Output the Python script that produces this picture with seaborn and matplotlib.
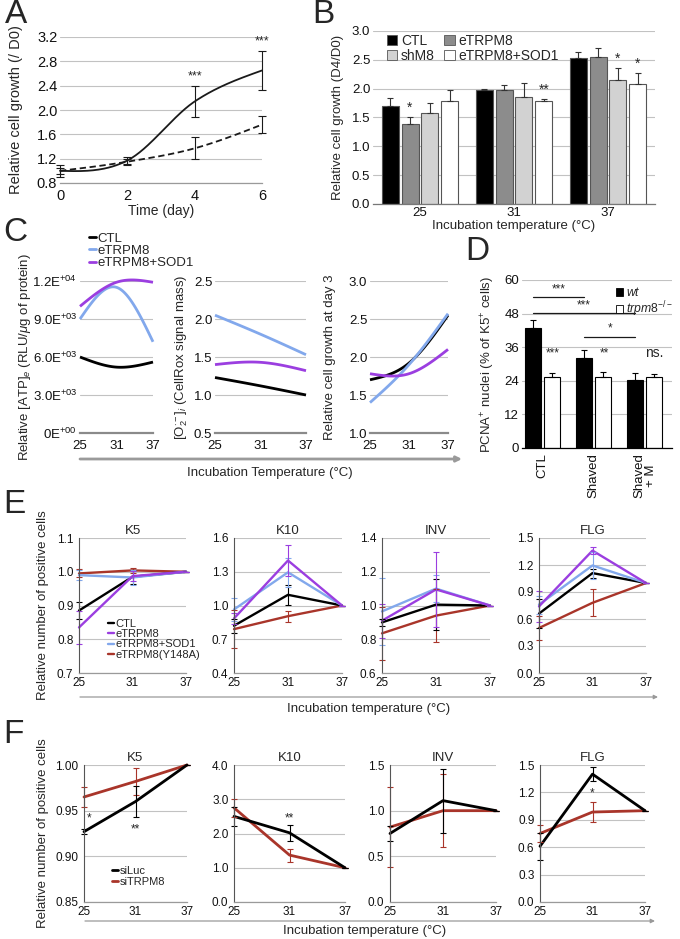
import numpy as np
import pandas as pd
import matplotlib
matplotlib.use("Agg")
import matplotlib.pyplot as plt
import seaborn as sns
from matplotlib.lines import Line2D
from matplotlib.patches import Patch, FancyArrowPatch

# ------------------------------------------------------------------ data
# Panel A
a_days = [0, 2, 4, 6]
a_solid = [1.00, 1.17, 2.14, 2.65]
a_solid_err = [0.05, 0.05, 0.26, 0.32]
a_dash = [1.00, 1.15, 1.37, 1.76]
a_dash_err = [0.10, 0.05, 0.18, 0.14]

# Panel B
b_temps = ["25", "31", "37"]
b_groups = ["CTL", "eTRPM8", "shM8", "eTRPM8+SOD1"]
b_ctl = [1.70, 1.98, 2.53]
b_ctl_err = [0.14, 0.02, 0.10]
b_etrpm8 = [1.38, 1.97, 2.55]
b_etrpm8_err = [0.13, 0.10, 0.15]
b_shm8 = [1.57, 1.86, 2.15]
b_shm8_err = [0.18, 0.23, 0.20]
b_sod1 = [1.79, 1.79, 2.08]
b_sod1_err = [0.19, 0.03, 0.19]

# Panel C
c_temps = [25, 31, 37]
c_atp_ctl = [6000, 5200, 5600]
c_atp_etrpm8 = [9000, 11500, 7200]
c_atp_sod1 = [10000, 11900, 11900]
c_ros_ctl = [1.23, 1.12, 1.00]
c_ros_etrpm8 = [2.05, 1.80, 1.53]
c_ros_sod1 = [1.40, 1.43, 1.32]
c_grow_ctl = [1.70, 1.92, 2.55]
c_grow_etrpm8 = [1.40, 1.90, 2.57]
c_grow_sod1 = [1.78, 1.78, 2.10]

# Panel D
d_groups = ["CTL", "Shaved", "Shaved\n+ M"]
d_wt = [42.8, 32.0, 24.3]
d_wt_err = [2.9, 3.0, 2.6]
d_ko = [25.5, 25.5, 25.5]
d_ko_err = [1.4, 1.6, 0.9]

# Panel E
e_temps = [25, 31, 37]
e_series = ["CTL", "eTRPM8", "eTRPM8+SOD1", "eTRPM8(Y148A)"]
e_k5_ctl = [0.885, 0.985, 1.0];  e_k5_ctl_err = [0.026, 0.020, 0]
e_k5_et = [0.835, 0.987, 1.0];   e_k5_et_err = [0.050, 0.015, 0]
e_k5_sod = [0.990, 0.983, 1.0];  e_k5_sod_err = [0.015, 0.022, 0]
e_k5_y = [0.995, 1.004, 1.0];    e_k5_y_err = [0.012, 0.007, 0]
e_k10_ctl = [0.82, 1.095, 1.0];  e_k10_ctl_err = [0.06, 0.09, 0]
e_k10_et = [0.885, 1.40, 1.0];   e_k10_et_err = [0.05, 0.14, 0]
e_k10_sod = [0.965, 1.295, 1.0]; e_k10_sod_err = [0.10, 0.13, 0]
e_k10_y = [0.79, 0.905, 1.0];    e_k10_y_err = [0.17, 0.05, 0]
e_inv_ctl = [0.90, 1.005, 1.0];  e_inv_ctl_err = [0.02, 0.15, 0]
e_inv_et = [0.91, 1.095, 1.0];   e_inv_et_err = [0.10, 0.22, 0]
e_inv_sod = [0.965, 1.10, 1.0];  e_inv_sod_err = [0.20, 0.08, 0]
e_inv_y = [0.835, 0.94, 1.0];    e_inv_y_err = [0.155, 0.155, 0]
e_flg_ctl = [0.66, 1.11, 1.0];   e_flg_ctl_err = [0.16, 0.05, 0]
e_flg_et = [0.74, 1.36, 1.0];    e_flg_et_err = [0.17, 0.04, 0]
e_flg_sod = [0.76, 1.195, 1.0];  e_flg_sod_err = [0.10, 0.15, 0]
e_flg_y = [0.50, 0.78, 1.0];     e_flg_y_err = [0.13, 0.15, 0]

# Panel F
f_series = ["siLuc", "siTRPM8"]
f_k5_luc = [0.927, 0.960, 1.0];  f_k5_luc_err = [0.003, 0.017, 0]
f_k5_si = [0.965, 0.982, 1.0];   f_k5_si_err = [0.011, 0.015, 0]
f_k10_luc = [2.50, 2.02, 1.0];   f_k10_luc_err = [0.28, 0.23, 0]
f_k10_si = [2.75, 1.37, 1.0];    f_k10_si_err = [0.27, 0.19, 0]
f_inv_luc = [0.75, 1.11, 1.0];   f_inv_luc_err = [0.08, 0.35, 0]
f_inv_si = [0.82, 1.00, 1.0];    f_inv_si_err = [0.44, 0.40, 0]
f_flg_luc = [0.61, 1.40, 1.0];   f_flg_luc_err = [0.145, 0.08, 0]
f_flg_si = [0.75, 0.985, 1.0];   f_flg_si_err = [0.09, 0.11, 0]

# ------------------------------------------------------------------ style
sns.set_theme(style="white")
plt.rcParams['font.family'] = ['Liberation Sans', 'DejaVu Sans']
plt.rcParams['mathtext.fontset'] = 'custom'
plt.rcParams['mathtext.rm'] = 'Liberation Sans'
plt.rcParams['mathtext.it'] = 'Liberation Sans:italic'
plt.rcParams['mathtext.bf'] = 'Liberation Sans:bold'
plt.rcParams['axes.unicode_minus'] = False

BLACK = '#000000'
PURPLE = '#9b3ee0'
BLUE = '#82a8ec'
RED = '#a9352a'
GRID = '#c2c2c2'

W, H = 680, 939
fig = plt.figure(figsize=(W / 100, H / 100), dpi=100)
fig.patch.set_facecolor('white')


def px_axes(l, t, r, b):
    return fig.add_axes([l / W, 1 - b / H, (r - l) / W, (b - t) / H])


def fy(y):
    return 1 - y / H


def style(ax, left=False, bottom_color='#9a9a9a', tick_fs=9):
    for s in ['top', 'right']:
        ax.spines[s].set_visible(False)
    ax.spines['left'].set_visible(left)
    ax.spines['left'].set_color('#555555')
    ax.spines['left'].set_linewidth(0.8)
    ax.spines['bottom'].set_color(bottom_color)
    ax.spines['bottom'].set_linewidth(0.9)
    ax.yaxis.grid(True, color=GRID, lw=0.8)
    ax.xaxis.grid(False)
    ax.set_axisbelow(True)
    ax.tick_params(axis='both', length=0, pad=2, labelsize=tick_fs, colors='#111111')
    ax.set_facecolor('none')


def smooth(x, y, n=50):
    # Excel-like smoothed line through the data points (render helper)
    x = np.asarray(x, float)
    y = np.asarray(y, float)
    k = len(x)
    m = np.zeros(k)
    for i in range(1, k - 1):
        m[i] = (y[i + 1] - y[i - 1]) / (x[i + 1] - x[i - 1])
    m[0] = (3 * (y[1] - y[0]) / (x[1] - x[0]) - m[1]) / 2
    m[-1] = (3 * (y[-1] - y[-2]) / (x[-1] - x[-2]) - m[-2]) / 2
    xs, ys = [], []
    t = np.linspace(0, 1, n)
    h00 = 2 * t**3 - 3 * t**2 + 1
    h10 = t**3 - 2 * t**2 + t
    h01 = -2 * t**3 + 3 * t**2
    h11 = t**3 - t**2
    for i in range(k - 1):
        h = x[i + 1] - x[i]
        xs.append(x[i] + t * h)
        ys.append(h00 * y[i] + h10 * h * m[i] + h01 * y[i + 1] + h11 * h * m[i + 1])
    return np.concatenate(xs), np.concatenate(ys)


def letter(x, y, s):
    fig.text(x / W, fy(y - 6), s, fontsize=24, va='top', ha='left')


def arrow(x0, x1, y, lw=1.0, color='#9a9a9a', ms=7):
    fig.add_artist(FancyArrowPatch((x0 / W, fy(y)), (x1 / W, fy(y)),
                                   transform=fig.transFigure, arrowstyle='-|>',
                                   mutation_scale=ms, color=color, lw=lw,
                                   shrinkA=0, shrinkB=0))


# ------------------------------------------------------------------ Panel A
axA = px_axes(60, 37, 262, 183)
style(axA, tick_fs=10.5)
xs, ys = smooth(a_days, a_solid)
axA.plot(xs, ys, color='k', lw=1.3, clip_on=False)
xs, ys = smooth(a_days, a_dash)
axA.plot(xs, ys, color='k', lw=1.3, ls=(0, (3.5, 2)), clip_on=False)
axA.errorbar(a_days, a_solid, yerr=a_solid_err, fmt='none', ecolor='k',
             elinewidth=0.8, capsize=3, capthick=0.8, clip_on=False)
axA.errorbar(a_days, a_dash, yerr=a_dash_err, fmt='none', ecolor='k',
             elinewidth=0.8, capsize=3, capthick=0.8, clip_on=False)
axA.set_xlim(0, 6)
axA.set_ylim(0.8, 3.2)
axA.set_yticks(np.arange(0.8, 3.21, 0.4))
axA.set_yticklabels([f"{v:.1f}" for v in np.arange(0.8, 3.21, 0.4)])
axA.set_xticks(a_days)
axA.tick_params(axis='x', pad=4)
axA.set_xlabel("Time (day)", fontsize=10, labelpad=1)
axA.set_ylabel("Relative cell growth (/ D0)", fontsize=10.5)
axA.yaxis.set_label_coords((23 - 60) / 202, 0.5)
for xi, yi, e in zip(a_days[2:], a_solid[2:], a_solid_err[2:]):
    axA.text(xi, yi + e + 0.06, "***", ha='center', va='bottom', fontsize=9)
letter(5, 5, "A")

# ------------------------------------------------------------------ Panel B
axB = px_axes(373, 31, 655, 204)
style(axB, bottom_color='#777777', tick_fs=9.5)
b_vals = {"CTL": b_ctl, "eTRPM8": b_etrpm8, "shM8": b_shm8, "eTRPM8+SOD1": b_sod1}
b_errs = {"CTL": b_ctl_err, "eTRPM8": b_etrpm8_err, "shM8": b_shm8_err, "eTRPM8+SOD1": b_sod1_err}
b_colors = {"CTL": '#000000', "eTRPM8": '#8c8c8c', "shM8": '#d2d2d2', "eTRPM8+SOD1": '#ffffff'}
rows = [(t, g, v) for g in b_groups for t, v in zip(b_temps, b_vals[g])]
dfb = pd.DataFrame(rows, columns=['temp', 'group', 'value'])
sns.barplot(data=dfb, x='temp', y='value', hue='group', order=b_temps,
            hue_order=b_groups, palette=b_colors, width=0.85, gap=0.15,
            edgecolor='#555555', linewidth=0.8, errorbar=None, legend=False, ax=axB)
b_centers = {}
for cont, g in zip(axB.containers, b_groups):
    cx = [p.get_x() + p.get_width() / 2 for p in cont]
    b_centers[g] = cx
    axB.errorbar(cx, b_vals[g], yerr=[np.zeros(3), b_errs[g]], fmt='none',
                 ecolor='#333333', elinewidth=0.8, capsize=2.5, capthick=0.8)
axB.set_xlim(-0.5, 2.5)
axB.set_ylim(0, 3.0)
axB.set_yticks(np.arange(0, 3.01, 0.5))
axB.set_yticklabels([f"{v:.1f}" for v in np.arange(0, 3.01, 0.5)])
axB.set_xlabel("Incubation temperature (\u00b0C)", fontsize=9.5, labelpad=1)
axB.set_ylabel("Relative cell growth (D4/D0)", fontsize=9.5)
axB.yaxis.set_label_coords((344 - 373) / 282, 0.5)
axB.tick_params(axis='x', pad=2)
b_stars = [("eTRPM8", 0, "*"), ("eTRPM8+SOD1", 1, "**"), ("shM8", 2, "*"), ("eTRPM8+SOD1", 2, "*")]
for g, i, s in b_stars:
    axB.text(b_centers[g][i], b_vals[g][i] + b_errs[g][i] + 0.04, s,
             ha='center', va='bottom', fontsize=10)
b_handles = [Patch(facecolor=b_colors[g], edgecolor='#555555', lw=0.6) for g in
             ["CTL", "shM8", "eTRPM8", "eTRPM8+SOD1"]]
axB.legend(b_handles, ["CTL", "shM8", "eTRPM8", "eTRPM8+SOD1"], ncol=2,
           loc='upper left', bbox_to_anchor=(0.02, 1.03), frameon=False,
           fontsize=10, handlelength=0.75, handleheight=0.75, handletextpad=0.25,
           columnspacing=0.7, labelspacing=0.05, borderpad=0.1)
letter(312, 5, "B")

# ------------------------------------------------------------------ Panel C
c_colors = [BLACK, BLUE, PURPLE]
c_specs = [
    (80, 153, [c_atp_ctl, c_atp_etrpm8, c_atp_sod1], (0, 12000),
     [0, 3000, 6000, 9000, 12000],
     [r"0E$^{+00}$", r"3.0E$^{+03}$", r"6.0E$^{+03}$", r"9.0E$^{+03}$", r"1.2E$^{+04}$"],
     r"Relative [ATP]$_e$ (RLU/$\mu$g of protein)", 33),
    (215, 306, [c_ros_ctl, c_ros_etrpm8, c_ros_sod1], (0.5, 2.5),
     [0.5, 1.0, 1.5, 2.0, 2.5], ["0.5", "1.0", "1.5", "2.0", "2.5"],
     r"[O$_2^{\cdot-}$]$_i$ (CellRox signal mass)", 190),
    (370, 448, [c_grow_ctl, c_grow_etrpm8, c_grow_sod1], (1.0, 3.0),
     [1.0, 1.5, 2.0, 2.5, 3.0], ["1.0", "1.5", "2.0", "2.5", "3.0"],
     "Relative cell growth at day 3", 336),
]
for l, r, series, ylim, yt, ytl, ylab, labx in c_specs:
    ax = px_axes(l, 281, r, 433)
    style(ax, bottom_color='#8a8a8a', tick_fs=9.5)
    ax.spines['bottom'].set_linewidth(1.6)
    for vals, col in zip(series, c_colors):
        xs, ys = smooth(c_temps, vals)
        ax.plot(xs, ys, color=col, lw=2.0, clip_on=False, solid_capstyle='butt')
    ax.set_xlim(25, 37)
    ax.set_ylim(*ylim)
    ax.set_yticks(yt)
    ax.set_yticklabels(ytl)
    ax.set_xticks(c_temps)
    ax.tick_params(axis='x', pad=5)
    ax.set_ylabel(ylab, fontsize=9.5)
    ax.yaxis.set_label_coords((labx - l) / (r - l), 0.5)
arrow(80, 462, 459, lw=2.0, color='#9a9a9a', ms=8)
fig.text(270 / W, fy(473), "Incubation Temperature (\u00b0C)", ha='center', va='center', fontsize=9.5)
c_handles = [Line2D([0], [0], color=c, lw=2) for c in c_colors]
fig.legend(c_handles, ["CTL", "eTRPM8", "eTRPM8+SOD1"], loc='upper left',
           bbox_to_anchor=(82 / W, fy(226)), frameon=False, fontsize=9.5,
           handlelength=0.55, handletextpad=0.15, labelspacing=0.0, borderpad=0)
letter(3, 223, "C")

# ------------------------------------------------------------------ Panel D
axD = px_axes(522, 280, 672, 448)
style(axD, bottom_color='#000000', tick_fs=9.5)
rows = [(g, "wt", v) for g, v in zip(d_groups, d_wt)] + \
       [(g, "trpm8", v) for g, v in zip(d_groups, d_ko)]
dfd = pd.DataFrame(rows, columns=['cond', 'geno', 'value'])
sns.barplot(data=dfd, x='cond', y='value', hue='geno', order=d_groups,
            hue_order=["wt", "trpm8"], palette={"wt": '#000000', "trpm8": '#ffffff'},
            width=0.74, gap=0.16, edgecolor='#000000', linewidth=0.8,
            errorbar=None, legend=False, ax=axD)
d_centers = {}
for cont, g, vals, errs in zip(axD.containers, ["wt", "trpm8"], [d_wt, d_ko], [d_wt_err, d_ko_err]):
    cx = [p.get_x() + p.get_width() / 2 for p in cont]
    d_centers[g] = cx
    axD.errorbar(cx, vals, yerr=[np.zeros(3), errs], fmt='none', ecolor='#000000',
                 elinewidth=0.8, capsize=2.5, capthick=0.8)
axD.set_xlim(-0.39, 2.53)
axD.set_ylim(0, 60)
axD.set_yticks([0, 12, 24, 36, 48, 60])
axD.set_xticks(range(3))
axD.set_xticklabels(d_groups, rotation=90, va='top', ha='center', fontsize=9.5, linespacing=0.95)
axD.tick_params(axis='x', pad=4)
axD.set_xlabel("")
axD.set_ylabel(r"PCNA$^{+}$ nuclei (% of K5$^{+}$ cells)", fontsize=9.5)
axD.yaxis.set_label_coords((497 - 522) / 150, 0.5)
wc = d_centers["wt"]
for (i0, i1, yv, s) in [(0, 1, 54.0, "***"), (0, 2, 48.1, "***"), (1, 2, 39.8, "*")]:
    axD.plot([wc[i0], wc[i1]], [yv, yv], color='k', lw=0.9)
    axD.text((wc[i0] + wc[i1]) / 2, yv + 0.6, s, ha='center', va='bottom', fontsize=8.5)
kc = d_centers["trpm8"]
for i, s, fs in [(0, "***", 8.5), (1, "**", 8.5), (2, "ns.", 10)]:
    axD.text(kc[i] + (0.02 if s != "ns." else 0.0), 31.5, s, ha='center', va='bottom', fontsize=fs)
d_handles = [Patch(facecolor='#000000', edgecolor='#000000', lw=0.6),
             Patch(facecolor='#ffffff', edgecolor='#000000', lw=0.6)]
fig.legend(d_handles, [r"$\mathit{wt}$", r"$\mathit{trpm8}^{-/-}$"], loc='upper left',
           bbox_to_anchor=(610 / W, fy(280)), frameon=False, fontsize=8.8,
           handlelength=0.6, handleheight=0.6, handletextpad=0.2, labelspacing=0.0,
           borderpad=0)
letter(465, 242, "D")

# ------------------------------------------------------------------ Panel E
e_colors = {"CTL": BLACK, "eTRPM8": PURPLE, "eTRPM8+SOD1": BLUE, "eTRPM8(Y148A)": RED}
e_panels = [
    ("K5", 79, 186, (0.7, 1.1), [0.7, 0.8, 0.9, 1.0, 1.1], "{:.1f}",
     [e_k5_ctl, e_k5_et, e_k5_sod, e_k5_y], [e_k5_ctl_err, e_k5_et_err, e_k5_sod_err, e_k5_y_err]),
    ("K10", 234, 342, (0.4, 1.6), [0.4, 0.7, 1.0, 1.3, 1.6], "{:.1f}",
     [e_k10_ctl, e_k10_et, e_k10_sod, e_k10_y], [e_k10_ctl_err, e_k10_et_err, e_k10_sod_err, e_k10_y_err]),
    ("INV", 382, 490, (0.6, 1.4), [0.6, 0.8, 1.0, 1.2, 1.4], "{:.1f}",
     [e_inv_ctl, e_inv_et, e_inv_sod, e_inv_y], [e_inv_ctl_err, e_inv_et_err, e_inv_sod_err, e_inv_y_err]),
    ("FLG", 539, 646, (0.0, 1.5), [0.0, 0.3, 0.6, 0.9, 1.2, 1.5], "{:.1f}",
     [e_flg_ctl, e_flg_et, e_flg_sod, e_flg_y], [e_flg_ctl_err, e_flg_et_err, e_flg_sod_err, e_flg_y_err]),
]
draw_order = [3, 0, 2, 1]
for name, l, r, ylim, yt, fmt, vals, errs in e_panels:
    ax = px_axes(l, 538, r, 673)
    style(ax, left=True, bottom_color='#9a9a9a', tick_fs=8.5)
    ax.tick_params(axis='y', length=2, width=0.6, color='#555555')
    rows = [(t, e_series[k], v) for k in draw_order for t, v in zip(e_temps, vals[k])]
    dfe = pd.DataFrame(rows, columns=['temp', 'series', 'value'])
    sns.lineplot(data=dfe, x='temp', y='value', hue='series',
                 hue_order=[e_series[k] for k in draw_order],
                 palette=e_colors, estimator=None, lw=1.7, legend=False, ax=ax)
    for k in draw_order:
        ax.errorbar(e_temps, vals[k], yerr=errs[k], fmt='none', ecolor=e_colors[e_series[k]],
                    elinewidth=0.8, capsize=2.2, capthick=0.8, clip_on=False)
    for ln in ax.lines:
        ln.set_clip_on(False)
    ax.set_xlim(25, 37)
    ax.set_ylim(*ylim)
    ax.set_yticks(yt)
    ax.set_yticklabels([fmt.format(v) for v in yt])
    ax.set_xticks(e_temps)
    ax.tick_params(axis='x', pad=3)
    ax.set_xlabel("")
    ax.set_ylabel("")
    ax.set_title(name, fontsize=9.5, pad=3)
    if name == "K5":
        ax.set_ylabel("Relative number of positive cells", fontsize=9.5)
        ax.yaxis.set_label_coords((49 - l) / (r - l), 0.5)
        e_handles = [Line2D([0], [0], color=e_colors[s], lw=1.7) for s in e_series]
        ax.legend(e_handles, e_series, loc='upper left',
                  bbox_to_anchor=((108 - l) / (r - l), (673 - 619) / 135),
                  frameon=False, fontsize=8, handlelength=0.55, handletextpad=0.15,
                  labelspacing=0.02, borderpad=0, borderaxespad=0)
arrow(80, 658, 697, lw=0.9, color='#999999', ms=6)
fig.text(369 / W, fy(709), "Incubation temperature (\u00b0C)", ha='center', va='center', fontsize=9.5)
letter(3, 495, "E")

# ------------------------------------------------------------------ Panel F
f_colors = {"siLuc": BLACK, "siTRPM8": RED}
f_panels = [
    ("K5", 84, 187, (0.85, 1.00), [0.85, 0.90, 0.95, 1.00], "{:.2f}",
     [f_k5_luc, f_k5_si], [f_k5_luc_err, f_k5_si_err]),
    ("K10", 234, 345, (0.0, 4.0), [0.0, 1.0, 2.0, 3.0, 4.0], "{:.1f}",
     [f_k10_luc, f_k10_si], [f_k10_luc_err, f_k10_si_err]),
    ("INV", 390, 496, (0.0, 1.5), [0.0, 0.5, 1.0, 1.5], "{:.1f}",
     [f_inv_luc, f_inv_si], [f_inv_luc_err, f_inv_si_err]),
    ("FLG", 540, 645, (0.0, 1.5), [0.0, 0.3, 0.6, 0.9, 1.2, 1.5], "{:.1f}",
     [f_flg_luc, f_flg_si], [f_flg_luc_err, f_flg_si_err]),
]
f_stars = {"K5": [(25.6, 0.941, "*"), (31, 0.929, "**")],
           "K10": [(31, 2.45, "**")],
           "FLG": [(31, 1.19, "*")]}
for name, l, r, ylim, yt, fmt, vals, errs in f_panels:
    ax = px_axes(l, 765, r, 902)
    style(ax, left=True, bottom_color='#9a9a9a', tick_fs=8.5)
    ax.tick_params(axis='y', length=2, width=0.6, color='#555555')
    rows = [(t, f_series[k], v) for k in [1, 0] for t, v in zip(e_temps, vals[k])]
    dff = pd.DataFrame(rows, columns=['temp', 'series', 'value'])
    sns.lineplot(data=dff, x='temp', y='value', hue='series', hue_order=["siTRPM8", "siLuc"],
                 palette=f_colors, estimator=None, lw=2.0, legend=False, ax=ax)
    for k in [1, 0]:
        ax.errorbar(e_temps, vals[k], yerr=errs[k], fmt='none', ecolor=f_colors[f_series[k]],
                    elinewidth=0.8, capsize=2.2, capthick=0.8, clip_on=False)
    for ln in ax.lines:
        ln.set_clip_on(False)
    ax.set_xlim(25, 37)
    ax.set_ylim(*ylim)
    ax.set_yticks(yt)
    ax.set_yticklabels([fmt.format(v) for v in yt])
    ax.set_xticks(e_temps)
    ax.tick_params(axis='x', pad=3)
    ax.set_xlabel("")
    ax.set_ylabel("")
    ax.set_title(name, fontsize=9.5, pad=3)
    for xs_, ys_, s in f_stars.get(name, []):
        ax.text(xs_, ys_, s, ha='center', va='center', fontsize=8.5)
    if name == "K5":
        ax.set_ylabel("Relative number of positive cells", fontsize=9.5)
        ax.yaxis.set_label_coords((49 - l) / (r - l), 0.5)
        f_handles = [Line2D([0], [0], color=f_colors[s], lw=2) for s in f_series]
        ax.legend(f_handles, f_series, loc='upper left',
                  bbox_to_anchor=((112 - l) / (r - l), (902 - 866) / 137),
                  frameon=False, fontsize=8, handlelength=0.55, handletextpad=0.15,
                  labelspacing=0.05, borderpad=0, borderaxespad=0)
arrow(85, 655, 921, lw=0.9, color='#999999', ms=6)
fig.text(365 / W, fy(931), "Incubation temperature (\u00b0C)", ha='center', va='center', fontsize=9.5)
letter(3, 725, "F")

fig.savefig("out.png", dpi=100, facecolor='white')
